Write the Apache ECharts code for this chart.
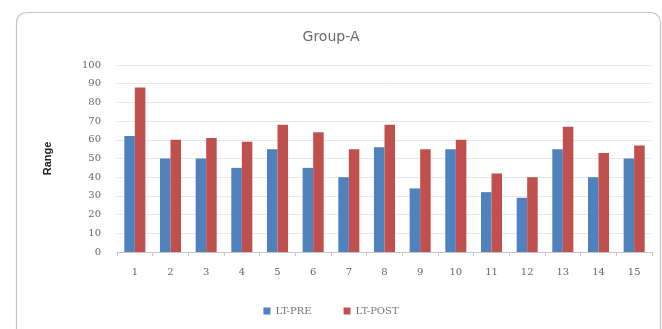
<!DOCTYPE html>
<html>
<head>
<meta charset="utf-8">
<script src="https://cdn.jsdelivr.net/npm/echarts@6/dist/echarts.min.js"></script>
<style>html,body{margin:0;padding:0;background:#fff}#c{width:662px;height:329px}</style>
</head>
<body>
<div id="c"></div>
<script>
const categories = ['1','2','3','4','5','6','7','8','9','10','11','12','13','14','15'];
const ltPre  = [62, 50, 50, 45, 55, 45, 40, 56, 34, 55, 32, 29, 55, 40, 50];
const ltPost = [88, 60, 61, 59, 68, 64, 55, 68, 55, 60, 42, 40, 67, 53, 57];
const seriesNames = ['LT-PRE', 'LT-POST'];
const yTicks = {min: 0, max: 100, interval: 10};

const chart = echarts.init(document.getElementById('c'), null, {renderer: 'canvas'});
chart.setOption({
  animation: false,
  backgroundColor: '#fff',
  graphic: [{
    type: 'rect', left: 14, top: 10,
    shape: {width: 644, height: 340, r: 10},
    style: {fill: 'none', stroke: '#c4c4c4', lineWidth: 1.2},
    silent: true
  }],
  title: {
    text: 'Group-A', left: 'center', top: 25,
    textStyle: {fontFamily: 'DejaVu Sans', fontWeight: 'normal', fontSize: 14, color: '#6a6a6a'}
  },
  legend: {
    bottom: 8, left: 'center', itemWidth: 7, itemHeight: 7, itemGap: 32, icon: 'rect',
    textStyle: {fontFamily: 'DejaVu Serif', fontSize: 10, color: '#777'},
    data: seriesNames
  },
  grid: {left: 117, right: 10, top: 65, bottom: 77},
  xAxis: {
    type: 'category', data: categories,
    axisLine: {lineStyle: {color: '#c8c8c8'}},
    axisTick: {show: true, length: 4, lineStyle: {color: '#c8c8c8'}},
    axisLabel: {fontFamily: 'DejaVu Serif', fontSize: 10, color: '#666', margin: 15}
  },
  yAxis: {
    type: 'value', min: yTicks.min, max: yTicks.max, interval: yTicks.interval,
    name: 'Range', nameLocation: 'middle', nameGap: 64, nameRotate: 90,
    nameTextStyle: {fontFamily: 'Liberation Sans', fontWeight: 'bold', fontSize: 11, color: '#222'},
    axisLine: {show: false}, axisTick: {show: false},
    splitLine: {lineStyle: {color: '#e8e8e8'}},
    axisLabel: {fontFamily: 'DejaVu Serif', fontSize: 10, color: '#666', margin: 16}
  },
  series: [
    {name: seriesNames[0], type: 'bar', data: ltPre, itemStyle: {color: '#4F81BD'}, barGap: '0%', barCategoryGap: '41%'},
    {name: seriesNames[1], type: 'bar', data: ltPost, itemStyle: {color: '#C0504D'}, barGap: '0%', barCategoryGap: '41%'}
  ]
});
</script>
</body>
</html>
